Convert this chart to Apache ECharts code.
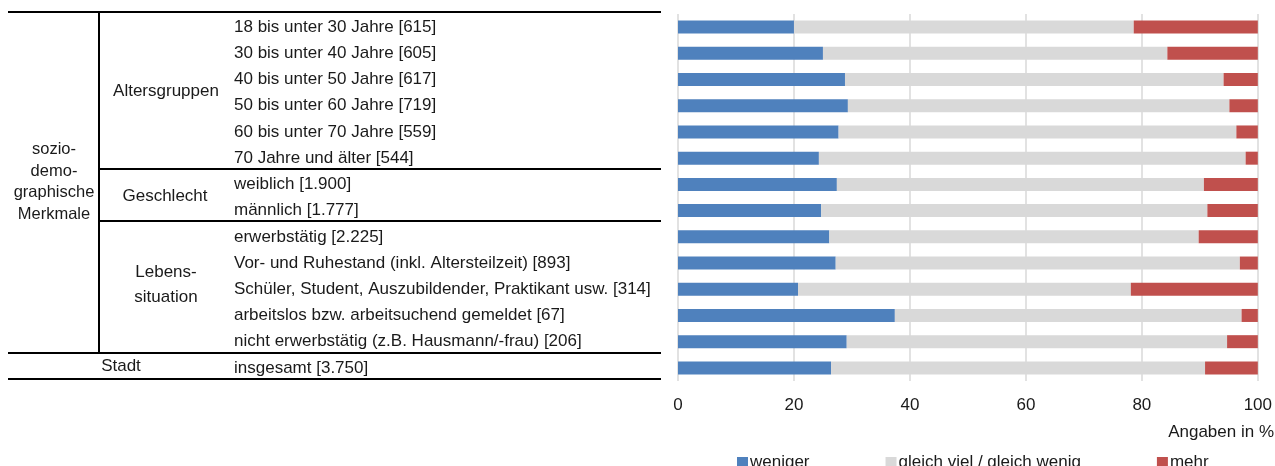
<!DOCTYPE html>
<html>
<head>
<meta charset="utf-8">
<script src="https://cdn.jsdelivr.net/npm/echarts@6/dist/echarts.min.js"></script>
<style>
  html, body { margin: 0; padding: 0; background: #fff; }
  #chart { width: 1275px; height: 466px; }
</style>
</head>
<body>
<div id="chart"></div>
<script>
// Kategorien (von oben nach unten)
var categories = [
    "18 bis unter 30 Jahre [615]",
    "30 bis unter 40 Jahre [605]",
    "40 bis unter 50 Jahre [617]",
    "50 bis unter 60 Jahre [719]",
    "60 bis unter 70 Jahre [559]",
    "70 Jahre und älter [544]",
    "weiblich [1.900]",
    "männlich [1.777]",
    "erwerbstätig [2.225]",
    "Vor- und Ruhestand (inkl. Altersteilzeit) [893]",
    "Schüler, Student, Auszubildender, Praktikant usw. [314]",
    "arbeitslos bzw. arbeitsuchend gemeldet [67]",
    "nicht erwerbstätig (z.B. Hausmann/-frau) [206]",
    "insgesamt [3.750]"
];
var weniger = [20.0, 25.0, 28.8, 29.3, 27.7, 24.3, 27.4, 24.7, 26.1, 27.2, 20.7, 37.4, 29.1, 26.4];
var gleich  = [58.6, 59.4, 65.3, 65.8, 68.6, 73.6, 63.3, 66.6, 63.7, 69.7, 57.4, 59.8, 65.6, 64.5];
var mehr    = [21.4, 15.6,  5.9,  4.9,  3.7,  2.1,  9.3,  8.7, 10.2,  3.1, 21.9,  2.8,  5.3,  9.1];
var xTicks  = [0, 20, 40, 60, 80, 100];
var seriesNames = ["weniger", "gleich viel / gleich wenig", "mehr"];

var FONT = "Liberation Sans, Arial, sans-serif";
var TXT = "#1a1a1a";

function line(x1, y1, x2, y2) {
    return {
        type: 'line',
        shape: {x1: x1, y1: y1, x2: x2, y2: y2},
        style: {stroke: '#000', lineWidth: 2}
    };
}
function label(x, y, text, size, lh) {
    return {
        type: 'text',
        x: x, y: y,
        style: {
            text: text, fill: TXT, font: size + 'px ' + FONT,
            align: 'center', verticalAlign: 'middle', lineHeight: lh || 20
        }
    };
}

var myChart = echarts.init(document.getElementById("chart"));
var option = {
    animation: false,
    grid: {left: 678, right: 15, top: 14, height: 367},
    legend: {
        data: seriesNames,
        left: 732, top: 449,
        icon: 'rect', itemWidth: 11, itemHeight: 11, itemGap: 76,
        textStyle: {fontFamily: FONT, fontSize: 17, color: TXT, padding: [0, 0, 0, -3]}
    },
    xAxis: {
        type: 'value', min: 0, max: 100, interval: 20,
        axisLine: {show: false}, axisTick: {show: false},
        axisLabel: {
            margin: 16, fontFamily: FONT, fontSize: 17, color: TXT,
            formatter: function (v) { return xTicks.indexOf(v) >= 0 ? String(v) : ''; }
        },
        splitLine: {lineStyle: {color: '#d9d9d9', width: 1.5}}
    },
    yAxis: {
        type: 'category', inverse: true, data: categories,
        axisLine: {show: false}, axisTick: {show: false},
        axisLabel: {
            align: 'left', margin: 444, fontFamily: FONT, fontSize: 17, color: TXT,
            padding: [0, 0, 7, 0]
        }
    },
    series: [
        {name: seriesNames[0], type: 'bar', stack: 'a', barWidth: 13, data: weniger, itemStyle: {color: '#4f81bd'}},
        {name: seriesNames[1], type: 'bar', stack: 'a', barWidth: 13, data: gleich, itemStyle: {color: '#d9d9d9'}},
        {name: seriesNames[2], type: 'bar', stack: 'a', barWidth: 13, data: mehr, itemStyle: {color: '#c0504d'}}
    ],
    graphic: [
        line(8, 12, 661, 12),
        line(99, 12, 99, 353),
        line(99, 169, 661, 169),
        line(99, 221, 661, 221),
        line(8, 353, 661, 353),
        line(8, 379, 661, 379),
        label(166, 91, "Altersgruppen", 17),
        label(165, 196, "Geschlecht", 17),
        label(166, 285, "Lebens-\nsituation", 17, 25),
        label(54, 182, "sozio-\ndemo-\ngraphische\nMerkmale", 16.5, 21.7),
        label(121, 366, "Stadt", 17),
        {
            type: 'text', x: 1274, y: 432,
            style: {text: "Angaben in %", fill: TXT, font: '17px ' + FONT, align: 'right', verticalAlign: 'middle'}
        }
    ]
};
myChart.setOption(option);
window.onresize = myChart.resize;
</script>
</body>
</html>
